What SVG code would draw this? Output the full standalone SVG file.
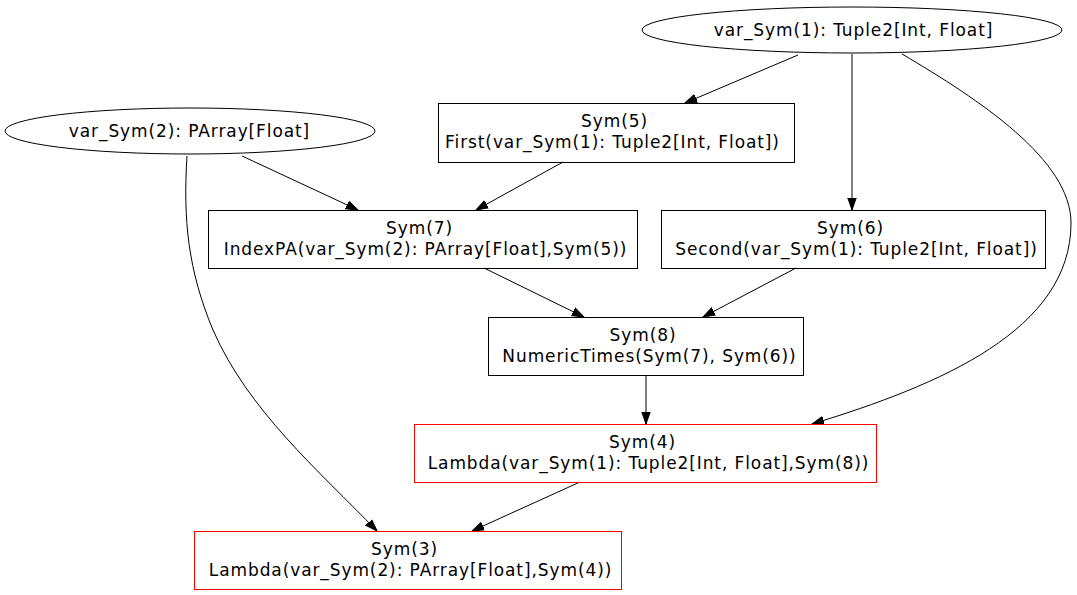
<svg xmlns="http://www.w3.org/2000/svg" width="1077" height="595" viewBox="0 0 1077 595">
<style>
.n{fill:none;stroke:#000;stroke-width:1}
.r{fill:none;stroke:#ff0000;stroke-width:1}
text{font-family:"DejaVu Sans",sans-serif;font-size:17px;letter-spacing:0.9px;text-anchor:middle;fill:#000}
.e{fill:none;stroke:#000;stroke-width:1}
</style>
<defs>
<marker id="a" markerUnits="userSpaceOnUse" markerWidth="13" markerHeight="10" refX="12" refY="5" orient="auto">
<path d="M0,0.8 L12,5 L0,9.2 z" fill="#000" stroke="#000" stroke-width="1"/>
</marker>
</defs>
<rect width="1077" height="595" fill="#fff"/>
<g id="edges">
<path class="e" marker-end="url(#a)" d="M798,55 L685,103"/>
<path class="e" marker-end="url(#a)" d="M852,54 L852,210"/>
<path class="e" marker-end="url(#a)" d="M902,54 C980,100 1071,160 1071,223 C1071,330 940,385 812,424"/>
<path class="e" marker-end="url(#a)" d="M242,156 L358,210"/>
<path class="e" marker-end="url(#a)" d="M187,156 C183,220 188,270 213,330 C248,410 318,470 377,531"/>
<path class="e" marker-end="url(#a)" d="M563,162 L476,210"/>
<path class="e" marker-end="url(#a)" d="M484,268 L584,317"/>
<path class="e" marker-end="url(#a)" d="M796,268 L703,317"/>
<path class="e" marker-end="url(#a)" d="M646,375 L646,424"/>
<path class="e" marker-end="url(#a)" d="M580,482 L472,531"/>
</g>
<g id="var_Sym1"><ellipse class="n" cx="852" cy="30" rx="210" ry="23"/><text x="853.5" y="36">var_Sym(1): Tuple2[Int, Float]</text></g>
<g id="var_Sym2"><ellipse class="n" cx="190" cy="131" rx="185" ry="23"/><text x="189.5" y="137">var_Sym(2): PArray[Float]</text></g>
<g id="Sym5"><rect class="n" x="438.5" y="103.5" width="356" height="59"/><text x="614.5" y="126.5">Sym(5)</text><text x="612.5" y="147.5">First(var_Sym(1): Tuple2[Int, Float])</text></g>
<g id="Sym7"><rect class="n" x="208.5" y="210.5" width="429" height="58"/><text x="419.5" y="233.5">Sym(7)</text><text x="425.5" y="254.5">IndexPA(var_Sym(2): PArray[Float],Sym(5))</text></g>
<g id="Sym6"><rect class="n" x="661.5" y="210.5" width="384" height="58"/><text x="850.5" y="233.5">Sym(6)</text><text x="856.5" y="254.5">Second(var_Sym(1): Tuple2[Int, Float])</text></g>
<g id="Sym8"><rect class="n" x="488.5" y="317.5" width="315" height="58"/><text x="643" y="340.5">Sym(8)</text><text x="649.5" y="361.5">NumericTimes(Sym(7), Sym(6))</text></g>
<g id="Sym4"><rect class="r" x="414.5" y="424.5" width="462" height="58"/><text x="642.5" y="447.5">Sym(4)</text><text x="648.5" y="468.5">Lambda(var_Sym(1): Tuple2[Int, Float],Sym(8))</text></g>
<g id="Sym3"><rect class="r" x="194.5" y="531.5" width="427" height="58"/><text x="404.5" y="554.5">Sym(3)</text><text x="410.5" y="575.5">Lambda(var_Sym(2): PArray[Float],Sym(4))</text></g>
</svg>
